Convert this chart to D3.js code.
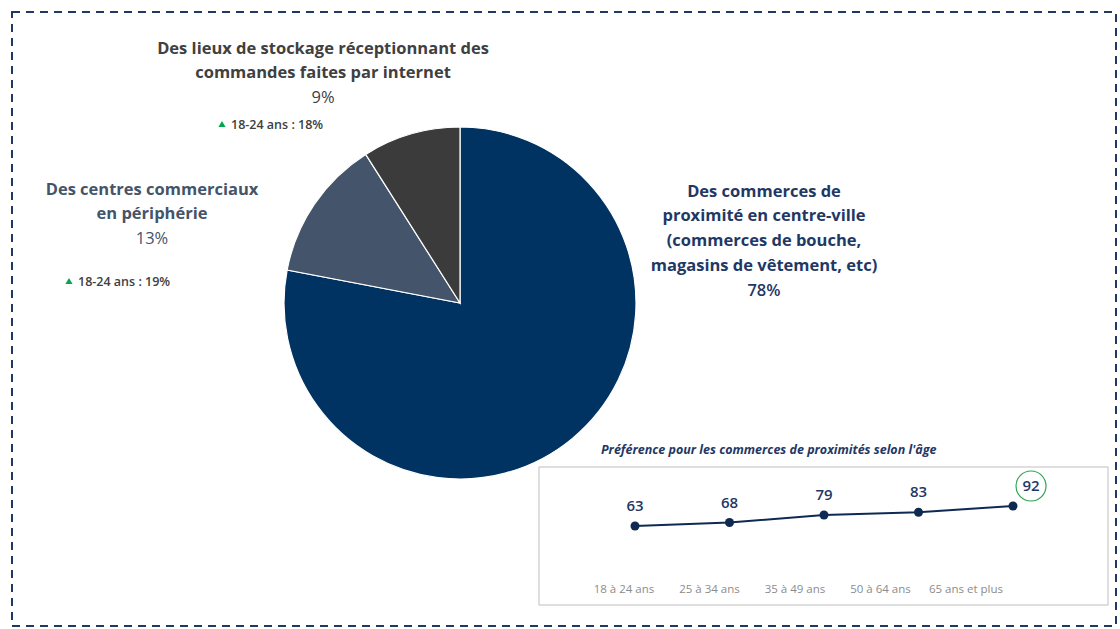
<!DOCTYPE html>
<html>
<head>
<meta charset="utf-8">
<script src="https://cdn.jsdelivr.net/npm/d3@7"></script>
<style>
  body { margin: 0; background: #fff; }
  text { font-family: "Open Sans", Lato, sans-serif; }
</style>
</head>
<body>
<script>
(function() {

    // pie data
    var sliceNames = ["proximite", "peripherie", "stockage"];
    var sliceValues = [78, 13, 9];
    var sliceColors = ["#003262", "#44546a", "#3b3b3b"];

    var labelLines = [
        ["Des commerces de", "proximité en centre-ville", "(commerces de bouche,", "magasins de vêtement, etc)"],
        ["Des centres commerciaux", "en périphérie"],
        ["Des lieux de stockage réceptionnant des", "commandes faites par internet"]
    ];
    var labelColors = ["#1f3864", "#44546a", "#404040"];
    var subNotes = [null, "18-24 ans : 19%", "18-24 ans : 18%"];

    // line chart data
    var ageGroups = ["18 à 24 ans", "25 à 34 ans", "35 à 49 ans", "50 à 64 ans", "65 ans et plus"];
    var ageValues = [63, 68, 79, 83, 92];
    var lineTitle = "Préférence pour les commerces de proximités selon l'âge";

    var width = 1120, height = 629;

    var svg = d3.select("body")
        .append("svg")
        .attr("width", width)
        .attr("height", height);

    // dashed frame
    svg.append("rect")
        .attr("x", 12).attr("y", 12)
        .attr("width", 1104).attr("height", 614)
        .attr("fill", "none")
        .attr("stroke", "#1f3864")
        .attr("stroke-width", 2)
        .attr("stroke-dasharray", "8,6");

    // pie
    var cx = 460, cy = 303, radius = 176;

    var pie = d3.pie().sort(null).value(function(d){ return d; });
    var arc = d3.arc().innerRadius(0).outerRadius(radius);

    var pieG = svg.append("g").attr("transform", "translate(" + cx + "," + cy + ")");

    pieG.selectAll(".slice")
        .data(pie(sliceValues))
        .enter()
        .append("path")
        .attr("class", function(d, i){ return "slice " + sliceNames[i]; })
        .attr("d", arc)
        .attr("fill", function(d, i){ return sliceColors[i]; })
        .attr("stroke", "#fff")
        .attr("stroke-width", 1.2);

    // slice labels (anchor = center of first line)
    var labelAnchors = [[764, 191], [152, 189], [323, 48]];
    var lineGap = 24.7;

    labelLines.forEach(function(lines, i) {
        var g = svg.append("g");
        lines.forEach(function(t, j) {
            g.append("text")
                .attr("x", labelAnchors[i][0])
                .attr("y", labelAnchors[i][1] + j * lineGap)
                .attr("dy", "0.35em")
                .attr("text-anchor", "middle")
                .attr("font-size", 16.5)
                .attr("font-weight", "bold")
                .attr("fill", labelColors[i])
                .text(t);
        });
        g.append("text")
            .attr("x", labelAnchors[i][0])
            .attr("y", labelAnchors[i][1] + lines.length * lineGap)
            .attr("dy", "0.35em")
            .attr("text-anchor", "middle")
            .attr("font-size", 16.5)
            .attr("font-weight", i === 0 ? 600 : "normal")
            .attr("fill", labelColors[i])
            .text(sliceValues[i] + "%");
    });

    // small green notes
    var noteAnchors = [null, [69, 282], [222, 125]];
    subNotes.forEach(function(n, i) {
        if (!n) return;
        var g = svg.append("g").attr("transform", "translate(" + noteAnchors[i][0] + "," + noteAnchors[i][1] + ")");
        g.append("path")
            .attr("d", d3.symbol().type(d3.symbolTriangle).size(22))
            .attr("fill", "#00a650");
        g.append("text")
            .attr("x", 9)
            .attr("dy", "0.35em")
            .attr("font-size", 12.5)
            .attr("font-weight", 600)
            .attr("fill", "#404040")
            .text(n);
    });

    // line chart box
    var box = {x: 539, y: 467, w: 569, h: 138};

    svg.append("text")
        .attr("x", 601).attr("y", 450)
        .attr("dy", "0.35em")
        .attr("font-size", 12.5)
        .attr("font-style", "italic")
        .attr("font-weight", "bold")
        .attr("fill", "#1f3864")
        .text(lineTitle);

    svg.append("rect")
        .attr("x", box.x).attr("y", box.y)
        .attr("width", box.w).attr("height", box.h)
        .attr("fill", "#fff")
        .attr("stroke", "#bfbfbf")
        .attr("stroke-width", 1);

    var xPts = d3.scalePoint().domain(ageGroups).range([635, 1013]);
    var xLab = d3.scalePoint().domain(ageGroups).range([624, 966]);
    var yScale = d3.scaleLinear().domain([63, 92]).range([526, 506]);

    var line = d3.line()
        .x(function(d, i){ return xPts(ageGroups[i]); })
        .y(function(d){ return yScale(d); });

    svg.append("path")
        .datum(ageValues)
        .attr("d", line)
        .attr("fill", "none")
        .attr("stroke", "#0f2a52")
        .attr("stroke-width", 2);

    svg.selectAll(".dot")
        .data(ageValues)
        .enter()
        .append("circle")
        .attr("class", "dot")
        .attr("cx", function(d, i){ return xPts(ageGroups[i]); })
        .attr("cy", function(d){ return yScale(d); })
        .attr("r", 4.5)
        .attr("fill", "#0f2a52");

    var last = ageValues.length - 1;

    svg.selectAll(".val")
        .data(ageValues)
        .enter()
        .append("text")
        .attr("class", "val")
        .attr("x", function(d, i){ return xPts(ageGroups[i]) + (i === last ? 18 : 0); })
        .attr("y", function(d){ return yScale(d) - 20; })
        .attr("dy", "0.35em")
        .attr("text-anchor", "middle")
        .attr("font-size", 15)
        .attr("font-weight", 600)
        .attr("fill", "#1f3864")
        .text(function(d){ return d; });

    // highlight circle around the last value
    svg.append("circle")
        .attr("cx", xPts(ageGroups[last]) + 18)
        .attr("cy", yScale(ageValues[last]) - 20)
        .attr("r", 15)
        .attr("fill", "none")
        .attr("stroke", "#2ea44f")
        .attr("stroke-width", 1.2);

    svg.selectAll(".age")
        .data(ageGroups)
        .enter()
        .append("text")
        .attr("class", "age")
        .attr("x", function(d){ return xLab(d); })
        .attr("y", 589)
        .attr("dy", "0.35em")
        .attr("text-anchor", "middle")
        .attr("font-size", 11.5)
        .attr("fill", "#8c8c8c")
        .text(function(d){ return d; });

})();
</script>
</body>
</html>
